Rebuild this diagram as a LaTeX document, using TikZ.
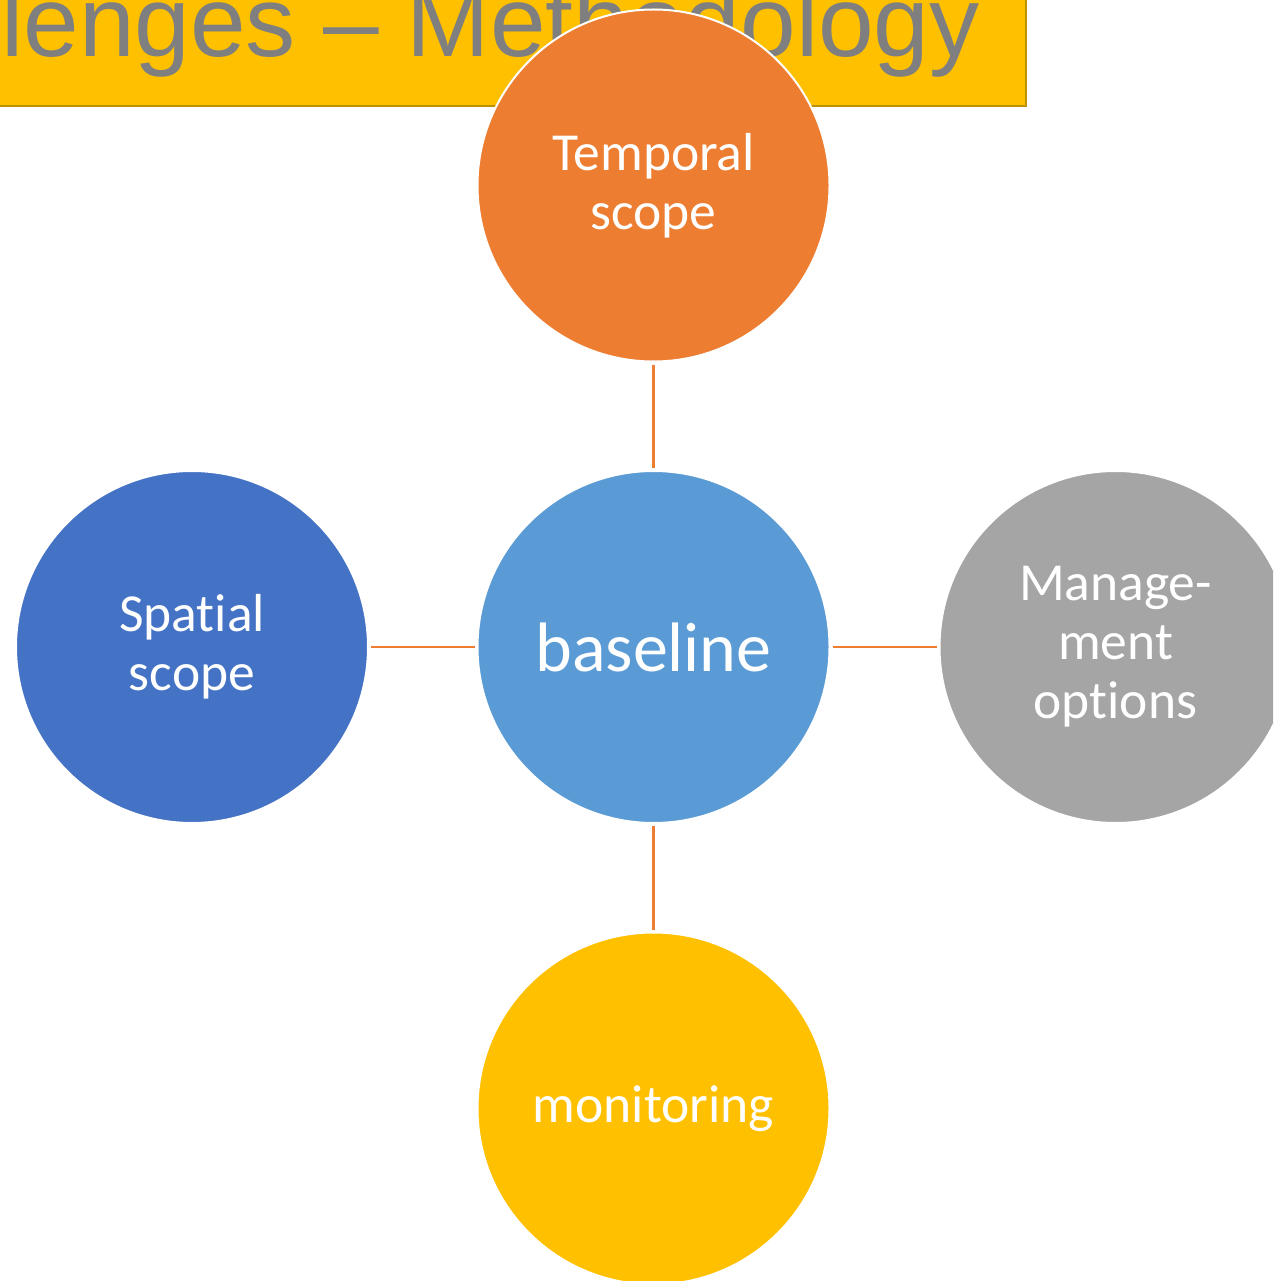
\documentclass[tikz,border=0pt]{standalone}
\usepackage{fontspec}
\setmainfont{Carlito}[Ligatures=NoCommon]
\newfontfamily\titlefont{Liberation Sans}
\definecolor{cOrange}{HTML}{ED7D31}
\definecolor{cBlue}{HTML}{5B9BD5}
\definecolor{cDarkBlue}{HTML}{4472C4}
\definecolor{cGray}{HTML}{A5A5A5}
\definecolor{cGold}{HTML}{FFC000}
\definecolor{cGoldEdge}{HTML}{BF9000}
\definecolor{cTitle}{HTML}{7F7F7F}
\tikzset{
  bubble/.style={circle, draw=white, line width=2pt, minimum size=352pt, inner sep=0pt, outer sep=0pt,
    text=white, align=center, font=\fontsize{53.5}{59}\selectfont},
  link/.style={draw=cOrange, line width=2.5pt, shorten >=3pt, shorten <=3pt}
}
\begin{document}
\begin{tikzpicture}[x=1pt,y=-1pt]
\clip (0,0) rectangle (1273,1281);
\useasboundingbox (0,0) rectangle (1273,1281);
% title banner
\node[draw=cGoldEdge, fill=cGold, line width=2pt, minimum width=1100pt, minimum height=130pt, inner sep=0pt, anchor=south east] (banner) at (1027,107) {};
\node[anchor=base east, inner sep=0pt, text=cTitle, font=\titlefont\fontsize{100}{120}\selectfont] (title) at (980,57) {Challenges – Methodology};
% circles
\node[bubble, fill=cBlue, font=\fontsize{70}{78}\selectfont] (base) at (653.5,647) {baseline};
\node[bubble, fill=cOrange] (temp) at (653.5,185.5) {Temporal\\scope};
\node[bubble, fill=cDarkBlue] (spat) at (192,647) {Spatial\\scope};
\node[bubble, fill=cGray] (mgmt) at (1115.5,647) {Manage-\\ment\\options};
\node[bubble, fill=cGold] (mon) at (653.5,1108.5) {monitoring};
% connectors
\draw[link] (temp.south) -- (base.north);
\draw[link] (spat.east) -- (base.west);
\draw[link] (base.east) -- (mgmt.west);
\draw[link] (base.south) -- (mon.north);
\end{tikzpicture}
\end{document}
